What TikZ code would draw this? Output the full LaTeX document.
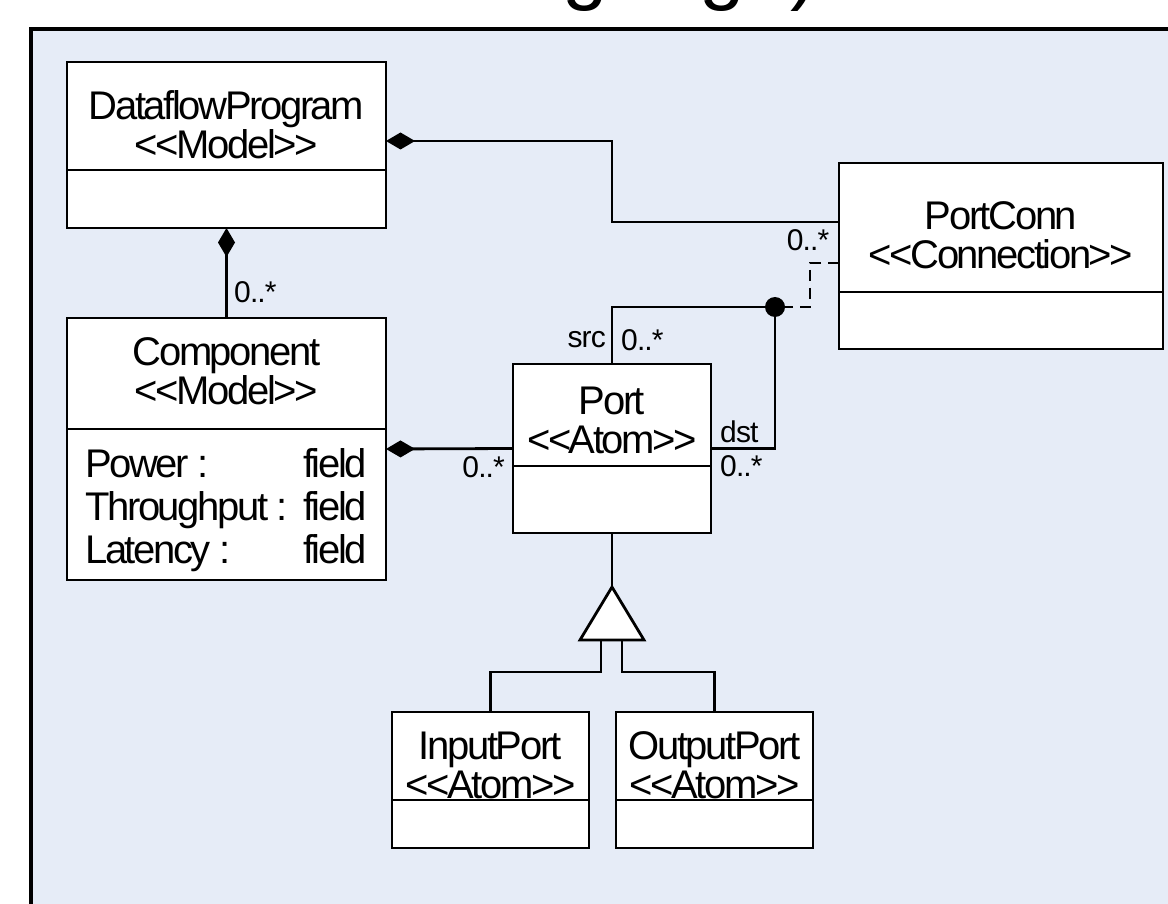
\documentclass[tikz,border=0pt]{standalone}
\usepackage{fontspec}
\newfontfamily\uml{Liberation Sans}[LetterSpace=-6]
\newfontfamily\umlsmall{Liberation Sans}[LetterSpace=-3]
\newfontfamily\umltitle{Liberation Sans}
\usetikzlibrary{arrows.meta}
\definecolor{bgblue}{RGB}{230,236,247}
\tikzset{
  umlbox/.style={draw=black, fill=white, line width=2.8pt, rectangle, inner sep=0pt, outer sep=0pt, anchor=north west},
  conn/.style={line width=2.8pt, draw=black},
  compo/.style={conn, {Diamond[length=29pt,width=17pt]}-},
  dashconn/.style={conn, dash pattern=on 11pt off 7pt},
  ttl/.style={align=center, font=\uml\fontsize{40}{39}\selectfont, inner sep=0pt},
  attr/.style={font=\uml\fontsize{40}{40}\selectfont, inner sep=0pt},
  mult/.style={font=\umlsmall\fontsize{30}{30}\selectfont, inner sep=0pt},
}
\begin{document}
\begin{tikzpicture}[x=1pt,y=-1pt]
\useasboundingbox (0,0) rectangle (1168,904);
% cut-off heading
\node[font=\umltitle\fontsize{82}{82}\selectfont, inner sep=0pt, anchor=base east] (head) at (818,-5) {Language)};
% frame
\draw[line width=3.5pt, fill=bgblue] (31,29) rectangle (1220,960);

% boxes
\node[umlbox, minimum width=319pt, minimum height=166pt] (dp) at (67,62) {};
\draw[conn] (dp.west |- 0,170) -- (dp.east |- 0,170);
\node[ttl] (dpt) at (226.5,125) {DataflowProgram\\<<Model>>};

\node[umlbox, minimum width=319pt, minimum height=262pt] (comp) at (67,318) {};
\draw[conn] (comp.west |- 0,429) -- (comp.east |- 0,429);
\node[ttl] (compt) at (226.5,371) {Component\\<<Model>>};
\node[attr, anchor=base west] (a1) at (85,477) {Power :};
\node[attr, anchor=base west] (a2) at (85,520) {Throughput :};
\node[attr, anchor=base west] (a3) at (85,563) {Latency :};
\node[attr, anchor=base east] (f1) at (367,477) {field};
\node[attr, anchor=base east] (f2) at (367,520) {field};
\node[attr, anchor=base east] (f3) at (367,563) {field};

\node[umlbox, minimum width=324pt, minimum height=186pt] (pc) at (839,163) {};
\draw[conn] (pc.west |- 0,292) -- (pc.east |- 0,292);
\node[ttl] (pct) at (1001,235) {PortConn\\<<Connection>>};

\node[umlbox, minimum width=198pt, minimum height=169pt] (port) at (513,364) {};
\draw[conn] (port.west |- 0,466) -- (port.east |- 0,466);
\node[ttl] (portt) at (612,420) {Port\\<<Atom>>};

\node[umlbox, minimum width=197pt, minimum height=136pt] (ip) at (392,712) {};
\draw[conn] (ip.west |- 0,800) -- (ip.east |- 0,800);
\node[ttl] (ipt) at (490.5,765) {InputPort\\<<Atom>>};

\node[umlbox, minimum width=197pt, minimum height=136pt] (op) at (616,712) {};
\draw[conn] (op.west |- 0,800) -- (op.east |- 0,800);
\node[ttl] (opt) at (714.5,765) {OutputPort\\<<Atom>>};

% connectors
\draw[compo] (dp.south) -- (comp.north);
\node[mult, anchor=west] (m1) at (234,292) {0..*};

\draw[compo] (dp.east |- 0,141) -- (612,141) -- (612,222) -- (pc.west |- 0,222);
\node[mult] (m2) at (808,240) {0..*};

\draw[compo] (comp.east) -- (port.west);
\node[mult, anchor=east] (m3) at (505,467) {0..*};

\node[circle, fill=black, inner sep=0pt, minimum size=20pt] (dot) at (775,307) {};
\draw[conn] (port.north) |- (dot);
\draw[conn] (port.east) -| (dot);
\draw[dashconn] (pc.west |- 0,263) -| (810,307) -- (dot);

\node[mult, anchor=east] (src) at (606,340) {src};
\node[mult, anchor=west] (m4) at (621,340) {0..*};
\node[mult, anchor=base west] (dst) at (720,442) {dst};
\node[mult, anchor=west] (m5) at (720,466) {0..*};

% generalization
\coordinate (apex) at (612,587);
\draw[conn] (port.south) -- (apex);
\draw[conn, fill=white] (apex) -- (644,640) -- (580,640) -- cycle;
\draw[conn] (ip.north) |- (601,672) -- (601,640);
\draw[conn] (op.north) |- (622,672) -- (622,640);
\end{tikzpicture}
\end{document}
